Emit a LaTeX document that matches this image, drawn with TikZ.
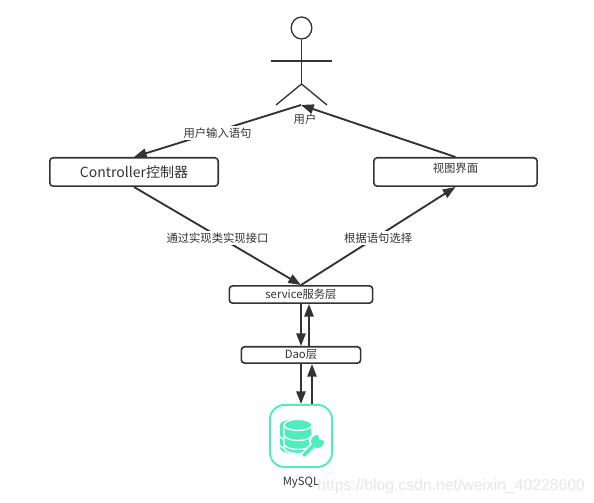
\documentclass[tikz,border=0pt]{standalone}
\usepackage{fontspec}
\setmainfont{Noto Sans CJK SC}
\newfontfamily\wmfont{Liberation Sans}
\usetikzlibrary{arrows.meta,positioning,shapes.geometric}
\definecolor{inkgray}{HTML}{333333}
\definecolor{mintcol}{HTML}{4FEDBD}
\definecolor{wmgray}{HTML}{E6E6E6}
\tikzset{
  blk/.style={draw=inkgray,rectangle,rounded corners=2.5pt,line width=1.2pt,inner sep=0pt,align=center,text=inkgray},
  arr/.style={-{Triangle[length=9.5pt,width=7pt]},line width=1.4pt,draw=inkgray},
  limb/.style={draw=inkgray,line width=1pt},
  lbl/.style={font=\fontsize{8.5}{10}\selectfont,text=inkgray,inner sep=1pt},
  edgelbl/.style={lbl,fill=white,midway,yshift=-1.5pt},
  dbicon/.style={draw=mintcol,rectangle,rounded corners=11pt,line width=1.4pt,minimum size=46.6pt,inner sep=0pt},
  dbpart/.style={fill=mintcol,draw=white,line width=0.9pt},
  dbgap/.style={draw=white,line width=1pt}
}
\begin{document}
\begin{tikzpicture}[x=0.75pt,y=-0.75pt]
  \useasboundingbox (0,0) rectangle (594,503);
  % stick figure
  \node[limb,ellipse,minimum width=15.5pt,minimum height=16.5pt,inner sep=0pt] (head) at (301.5,28) {};
  \coordinate (hip) at (301.5,84);
  \coordinate (armleft) at (271,61);
  \coordinate (armright) at (332,61);
  \coordinate (footleft) at (276,105);
  \coordinate (footright) at (327,105);
  \coordinate (userfoot) at (301,105);
  \draw[limb] (head.south) -- (hip);
  \draw[limb] (armleft) -- (armright);
  \draw[limb] (footleft) -- (hip) -- (footright);
  \node[lbl] (user) at (305,119) {用户};

  \node[blk,minimum width=126.3pt,minimum height=21.3pt,font=\fontsize{10.5}{12}\selectfont] (ctrl) at (134,172) {Controller控制器};
  \node[blk,minimum width=122.5pt,minimum height=21.3pt,right=115.5pt of ctrl,label={[lbl,yshift=3pt]center:视图界面}] (view) {};
  \node[blk,minimum width=107.5pt,minimum height=13pt,font=\fontsize{8.5}{10}\selectfont] (service) at (301,294.5) {service服务层};
  \node[blk,minimum width=89.5pt,minimum height=12.3pt,below=31.5pt of service,font=\fontsize{8.5}{10}\selectfont] (dao) {Dao层};
  \node[dbicon,below=30pt of dao] (mysql) {};
  \node[lbl,below=5.5pt of mysql] (mysqllbl) {MySQL};
  \node[anchor=west,inner sep=0pt,text=wmgray,font=\wmfont\fontsize{11.8}{14}\selectfont] (mark) at (317,486) {https://blog.csdn.net/weixin\_40228600};

  % database with wrench
  \begin{scope}[shift={(mysql.center)}]
    \fill[mintcol] (-21,-11) arc[start angle=180,end angle=360,x radius=14,y radius=5.5] -- (7,12) arc[start angle=0,end angle=180,x radius=14,y radius=5.5] -- cycle;
    \foreach \gapy in {-1,8}
      \draw[dbgap] (-22,\gapy) arc[start angle=180,end angle=0,x radius=14,y radius=5.5];
    \path[dbpart] (-17,-11) arc[start angle=180,end angle=360,x radius=14,y radius=5.5] -- (11,12) arc[start angle=0,end angle=180,x radius=14,y radius=5.5] -- cycle;
    \foreach \gapy in {-11,-1,8}
      \draw[dbgap] (-17,\gapy) arc[start angle=180,end angle=0,x radius=14,y radius=5.5];
    % wrench
    \draw[white,line width=5pt,line cap=round] (3,19) -- (15,7);
    \fill[white] (17,5) circle (9);
    \draw[mintcol,line width=2.8pt,line cap=round] (3,19) -- (15,7);
    \fill[mintcol] (16.5,5.5) circle (6.5);
    \fill[white] (18.5,3.5) -- (17,-1.5) -- (24,-2) -- (24,5) -- cycle;
  \end{scope}

  \draw[arr] (userfoot) -- node[edgelbl] (asklbl) {用户输入语句} (ctrl.north);
  \draw[arr] (view.north) -- (userfoot);
  \draw[arr] (ctrl.south) -- node[edgelbl] (impllbl) {通过实现类实现接口} (service.north);
  \draw[arr] (service.north) -- node[edgelbl] (picklbl) {根据语句选择} (view.south);
  \draw[arr] (service.south) -- (dao.north);
  \draw[arr] ([xshift=6pt]dao.north) -- ([xshift=6pt]service.south);
  \draw[arr] (dao.south) -- (mysql.north);
  \draw[arr] ([xshift=8.25pt]mysql.north) -- ([xshift=8.25pt]dao.south);
\end{tikzpicture}
\end{document}
